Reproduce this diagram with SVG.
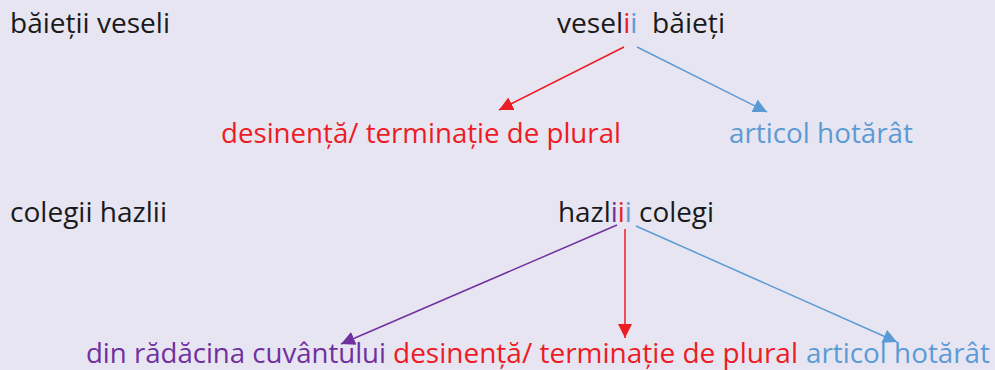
<svg xmlns="http://www.w3.org/2000/svg" width="995" height="370" viewBox="0 0 995 370">
<style>
text{font-family:"Open Sans","Noto Sans","Liberation Sans",sans-serif;font-size:28px;fill:#1a1a1a}
.r{fill:#ED1C24}.b{fill:#5B9BD5}.p{fill:#7030A0}
.c{fill:none;stroke-width:1.5}
</style>
<defs>
<marker id="mr" viewBox="0 0 10 10" refX="10" refY="5" markerWidth="14" markerHeight="14" markerUnits="userSpaceOnUse" orient="auto"><path d="M0,0L10,5L0,10z" fill="#ED1C24"/></marker>
<marker id="mb" viewBox="0 0 10 10" refX="10" refY="5" markerWidth="14" markerHeight="14" markerUnits="userSpaceOnUse" orient="auto"><path d="M0,0L10,5L0,10z" fill="#5B9BD5"/></marker>
<marker id="mp" viewBox="0 0 10 10" refX="10" refY="5" markerWidth="14" markerHeight="14" markerUnits="userSpaceOnUse" orient="auto"><path d="M0,0L10,5L0,10z" fill="#7030A0"/></marker>
</defs>
<rect width="995" height="370" fill="#E7E5F1"/>
<g id="row1">
<text id="ex1" x="10" y="33" textLength="160" lengthAdjust="spacingAndGlyphs">băieții veseli</text>
<text id="w1" x="557" y="33" textLength="168" lengthAdjust="spacingAndGlyphs" xml:space="preserve">vesel<tspan class="r">i</tspan><tspan class="b">i</tspan>  băieți</text>
<text id="d1" class="r" x="221" y="143" textLength="400" lengthAdjust="spacingAndGlyphs">desinență/ terminație de plural</text>
<text id="a1" class="b" x="729" y="143" textLength="184" lengthAdjust="spacingAndGlyphs">articol hotărât</text>
</g>
<g id="row2">
<text id="ex2" x="10" y="222" textLength="157" lengthAdjust="spacingAndGlyphs">colegii hazlii</text>
<text id="w2" x="558" y="222" textLength="156" lengthAdjust="spacingAndGlyphs">hazl<tspan class="p">i</tspan><tspan class="r">i</tspan><tspan class="b">i</tspan> colegi</text>
<text id="rd" class="p" x="86" y="363" textLength="300" lengthAdjust="spacingAndGlyphs">din rădăcina cuvântului</text>
<text id="d2" class="r" x="393" y="363" textLength="405" lengthAdjust="spacingAndGlyphs">desinență/ terminație de plural</text>
<text id="a2" class="b" x="806" y="363" textLength="184" lengthAdjust="spacingAndGlyphs">articol hotărât</text>
</g>
<g id="connectors">
<line class="c" x1="624" y1="47" x2="499" y2="110" stroke="#ED1C24" marker-end="url(#mr)"/>
<line class="c" x1="637" y1="47" x2="767" y2="112" stroke="#5B9BD5" marker-end="url(#mb)"/>
<line class="c" x1="617" y1="225" x2="341" y2="344" stroke="#7030A0" marker-end="url(#mp)"/>
<line class="c" x1="625" y1="229" x2="625" y2="338" stroke="#ED1C24" marker-end="url(#mr)"/>
<line class="c" x1="636" y1="226" x2="897" y2="342" stroke="#5B9BD5" marker-end="url(#mb)"/>
</g>
</svg>
